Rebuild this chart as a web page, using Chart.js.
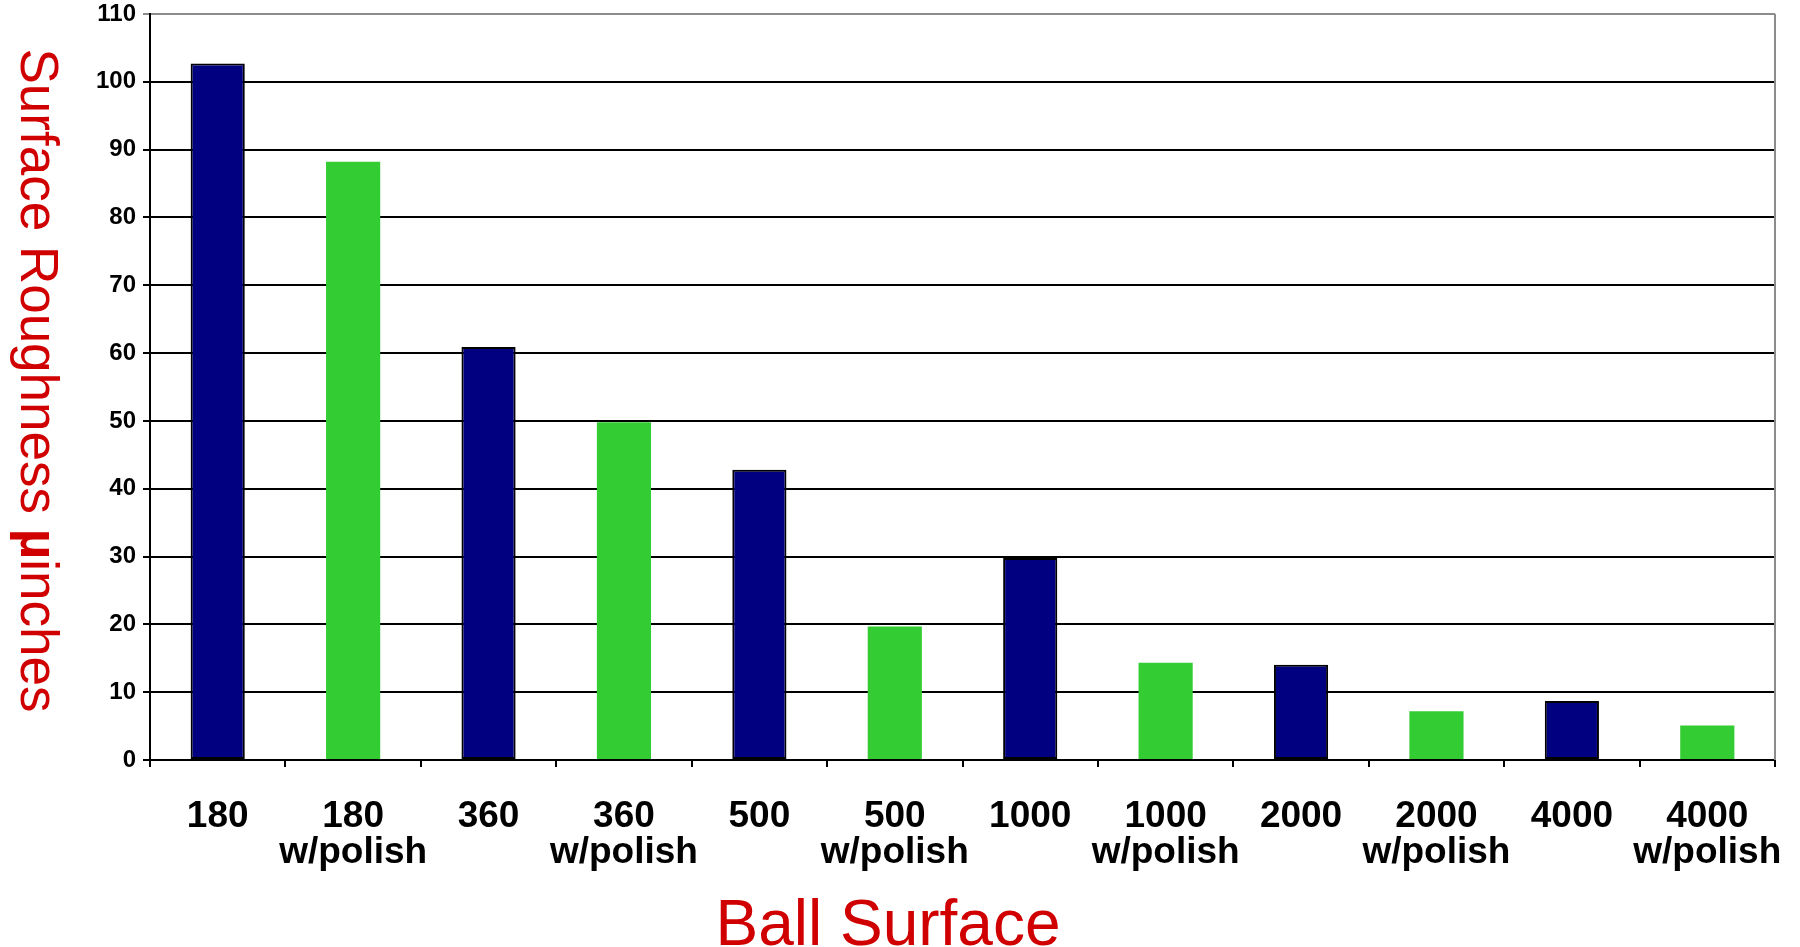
<!DOCTYPE html>
<html>
<head>
<meta charset="utf-8">
<title>Ball Surface Roughness</title>
<script src="https://cdn.jsdelivr.net/npm/chart.js@4/dist/chart.umd.min.js"></script>
<style>
  html, body { margin: 0; padding: 0; background: #ffffff; }
  #wrap { width: 1800px; height: 947px; position: relative; }
</style>
</head>
<body>
<div id="wrap"><canvas id="chart" width="1800" height="947"></canvas></div>
<script>
// Ball finish categories (grit, with or without polishing)
const categories = [
  '180', '180 w/polish',
  '360', '360 w/polish',
  '500', '500 w/polish',
  '1000', '1000 w/polish',
  '2000', '2000 w/polish',
  '4000', '4000 w/polish'
];

// Measured surface roughness, micro-inches
const roughness = [102.7, 88.2, 60.9, 49.8, 42.8, 19.7, 29.8, 14.35, 14.05, 7.2, 8.7, 5.1];

// Whether each finish was polished
const polished = [false, true, false, true, false, true, false, true, false, true, false, true];

// Value axis tick values
const yTicks = [0, 10, 20, 30, 40, 50, 60, 70, 80, 90, 100, 110];

const xTitle = 'Ball Surface';
const yTitleParts = [
  { text: 'Surface Roughness ', bold: false },
  { text: 'µ', bold: true },
  { text: 'inches', bold: false }
];

const FONT = '"Liberation Sans", Arial, Helvetica, sans-serif';
const NAVY = '#000080';
const GREEN = '#33CC33';
const RED = '#D00000';

const barColors = polished.map(p => p ? GREEN : NAVY);
const barBorders = polished.map(p => p ? GREEN : '#000000');
const barBorderWidths = polished.map(p => p ? 0 : 2);

// Axis titles: the value title reads top-to-bottom, the category title sits below the labels
const axisTitles = {
  id: 'axisTitles',
  afterDraw(chart) {
    const { ctx, chartArea } = chart;
    ctx.save();
    ctx.fillStyle = RED;

    // category axis title
    ctx.font = '64px ' + FONT;
    ctx.textAlign = 'center';
    ctx.textBaseline = 'alphabetic';
    ctx.fillText(xTitle, 888, 945);

    // value axis title, rotated clockwise
    const size = 53;
    const widths = yTitleParts.map(p => {
      ctx.font = (p.bold ? 'bold ' : '') + size + 'px ' + FONT;
      return ctx.measureText(p.text).width;
    });
    const total = widths.reduce((a, b) => a + b, 0);
    ctx.translate(21, 380.5);
    ctx.rotate(Math.PI / 2);
    ctx.textAlign = 'left';
    let x = -total / 2;
    yTitleParts.forEach((p, i) => {
      ctx.font = (p.bold ? 'bold ' : '') + size + 'px ' + FONT;
      ctx.fillText(p.text, x, 0);
      x += widths[i];
    });
    ctx.restore();

    // right edge of the plot frame
    ctx.save();
    ctx.strokeStyle = '#8c8c8c';
    ctx.lineWidth = 2;
    ctx.beginPath();
    ctx.moveTo(chartArea.right, chartArea.top);
    ctx.lineTo(chartArea.right, chartArea.bottom);
    ctx.stroke();
    ctx.restore();
  }
};

new Chart(document.getElementById('chart'), {
  type: 'bar',
  data: {
    labels: categories,
    datasets: [{
      data: roughness,
      backgroundColor: barColors,
      borderColor: barBorders,
      borderWidth: barBorderWidths,
      borderSkipped: false,
      categoryPercentage: 1.0,
      barPercentage: 0.4
    }]
  },
  options: {
    responsive: false,
    devicePixelRatio: 1,
    animation: false,
    layout: { padding: { left: 0, right: 25, top: 14, bottom: 0 } },
    plugins: {
      legend: { display: false },
      tooltip: { enabled: false },
      title: { display: false }
    },
    scales: {
      x: {
        offset: true,
        afterFit(scale) {
          scale.height = 187;
          scale.paddingLeft = 0;
          scale.paddingRight = 0;
        },
        grid: {
          display: true,
          drawOnChartArea: false,
          drawTicks: true,
          tickLength: 7,
          color: '#000000',
          lineWidth: 2,
          offset: true
        },
        border: { display: true, color: '#000000', width: 2 },
        ticks: {
          color: '#000000',
          padding: 32,
          maxRotation: 0,
          autoSkip: false,
          font: { family: FONT, size: 37, weight: 'bold', lineHeight: 0.97 },
          callback(value, index) {
            const label = categories[index];
            const cut = label.indexOf(' ');
            return cut < 0 ? label : [label.slice(0, cut), label.slice(cut + 1)];
          }
        }
      },
      y: {
        min: yTicks[0],
        max: yTicks[yTicks.length - 1],
        afterFit(scale) {
          scale.width = 150;
          scale.paddingTop = 0;
          scale.paddingBottom = 0;
        },
        afterBuildTicks(scale) { scale.ticks = yTicks.map(v => ({ value: v })); },
        grid: {
          display: true,
          drawTicks: true,
          tickLength: 7,
          lineWidth: 2,
          color(ctx) {
            return ctx.tick && ctx.tick.value === yTicks[yTicks.length - 1] ? '#8c8c8c' : '#000000';
          }
        },
        border: { display: true, color: '#000000', width: 2 },
        ticks: {
          color: '#000000',
          padding: 7,
          font: { family: FONT, size: 24, weight: 'bold' }
        }
      }
    }
  },
  plugins: [axisTitles]
});
</script>
</body>
</html>
